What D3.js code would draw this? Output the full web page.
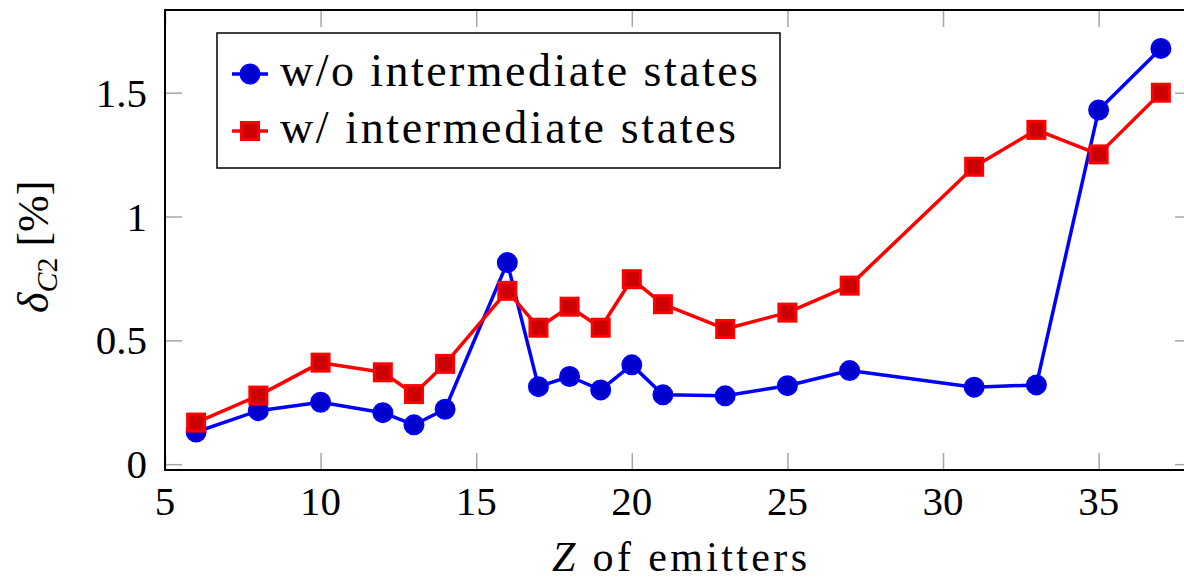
<!DOCTYPE html>
<html>
<head>
<meta charset="utf-8">
<script src="https://cdn.jsdelivr.net/npm/d3@7"></script>
<style>
  body { margin: 0; background: #fff; }
  text { font-family: "Liberation Serif", "DejaVu Serif", serif; fill: #000; }
</style>
</head>
<body>
<div id="chart"></div>
<script>
// Values
const zValues = [6, 8, 10, 12, 13, 14, 16, 17, 18, 19, 20, 21, 23, 25, 27, 31, 33, 35, 37];
const withoutStates = [0.13, 0.216, 0.25, 0.208, 0.159, 0.222, 0.814, 0.313, 0.354, 0.30, 0.401, 0.28, 0.276, 0.317, 0.378, 0.311, 0.32, 1.43, 1.679];
const withStates = [0.168, 0.277, 0.41, 0.371, 0.283, 0.405, 0.70, 0.551, 0.636, 0.551, 0.747, 0.646, 0.546, 0.612, 0.721, 1.201, 1.35, 1.251, 1.50];
const xTicks = [5, 10, 15, 20, 25, 30, 35];
const yTicks = [0, 0.5, 1, 1.5];
const seriesNames = ["w/o intermediate states", "w/ intermediate states"];

function drawChart() {
    const totalWidth = 1184, totalHeight = 581;
    const margin = { top: 10, left: 165 };
    const width = 1192 - margin.left;   // right frame lies just outside the picture
    const height = 470 - margin.top;

    const svg = d3.select("#chart").append("svg")
        .attr("width", totalWidth)
        .attr("height", totalHeight);

    const g = svg.append("g")
        .attr("transform", `translate(${margin.left},${margin.top})`);

    const xScale = d3.scaleLinear().domain([5, 38]).range([0, width]);
    const yScale = d3.scaleLinear().domain([-0.0235, 1.834]).range([height, 0]);

    // inward gray ticks on all four sides
    const tickLen = 17;
    const tickStyle = sel => {
        sel.select(".domain").remove();
        sel.selectAll(".tick line").attr("stroke", "#a6a6a6").attr("stroke-width", 1.5);
        sel.selectAll(".tick text").remove();
    };
    g.append("g").attr("transform", `translate(0,${height})`)
        .call(d3.axisTop(xScale).tickValues(xTicks).tickSize(tickLen)).call(tickStyle);
    g.append("g")
        .call(d3.axisBottom(xScale).tickValues(xTicks).tickSize(tickLen)).call(tickStyle);
    g.append("g")
        .call(d3.axisRight(yScale).tickValues(yTicks).tickSize(tickLen)).call(tickStyle);
    g.append("g").attr("transform", `translate(${width},0)`)
        .call(d3.axisLeft(yScale).tickValues(yTicks).tickSize(tickLen)).call(tickStyle);

    // tick labels
    g.selectAll(".x-label")
        .data(xTicks)
        .enter().append("text")
        .attr("class", "x-label")
        .attr("text-anchor", "middle")
        .attr("x", d => xScale(d))
        .attr("y", height + 45)
        .style("font-size", "41px")
        .text(d => d);

    g.selectAll(".y-label")
        .data(yTicks)
        .enter().append("text")
        .attr("class", "y-label")
        .attr("text-anchor", "end")
        .attr("x", -18)
        .attr("y", d => yScale(d) + 14)
        .style("font-size", "41px")
        .text(d => d);

    // frame
    g.append("rect")
        .attr("width", width).attr("height", height)
        .attr("fill", "none").attr("stroke", "#000").attr("stroke-width", 2);

    // series
    g.append("clipPath").attr("id", "plot-clip")
        .append("rect").attr("x", -12).attr("y", -12)
        .attr("width", width + 24).attr("height", height + 24);
    const plot = g.append("g").attr("clip-path", "url(#plot-clip)");

    const line = d3.line()
        .x(d => xScale(d[0]))
        .y(d => yScale(d[1]));

    const blueData = zValues.map((z, i) => [z, withoutStates[i]]);
    const redData = zValues.map((z, i) => [z, withStates[i]]);

    plot.append("path").datum(blueData)
        .attr("d", line).attr("fill", "none")
        .attr("stroke", "#0000ff").attr("stroke-width", 3.5)
        .attr("stroke-linejoin", "round");
    plot.selectAll(".dot")
        .data(blueData)
        .enter().append("circle")
        .attr("class", "dot")
        .attr("cx", d => xScale(d[0]))
        .attr("cy", d => yScale(d[1]))
        .attr("r", 9.5)
        .attr("fill", "#0000cc")
        .attr("stroke", "#0000ff")
        .attr("stroke-width", 2);

    plot.append("path").datum(redData)
        .attr("d", line).attr("fill", "none")
        .attr("stroke", "#ff0000").attr("stroke-width", 3.5)
        .attr("stroke-linejoin", "round");
    plot.selectAll(".sq")
        .data(redData)
        .enter().append("rect")
        .attr("class", "sq")
        .attr("x", d => xScale(d[0]) - 8.5)
        .attr("y", d => yScale(d[1]) - 8.5)
        .attr("width", 17).attr("height", 17)
        .attr("fill", "#cc0000")
        .attr("stroke", "#ff0000")
        .attr("stroke-width", 3);

    // axis titles
    const xTitle = svg.append("text")
        .attr("x", 552)
        .attr("y", 571)
        .attr("textLength", 255)
        .attr("lengthAdjust", "spacing")
        .style("font-size", "42px");
    xTitle.append("tspan").style("font-style", "italic").text("Z");
    xTitle.append("tspan").text(" of emitters");

    const yTitle = svg.append("text")
        .attr("transform", "translate(48,313) rotate(-90)")
        .style("font-size", "44px");
    yTitle.append("tspan").style("font-style", "italic").text("δ");
    yTitle.append("tspan").attr("dy", 9).style("font-size", "30px").style("font-style", "italic").text("C");
    yTitle.append("tspan").style("font-size", "30px").text("2");
    yTitle.append("tspan").attr("dy", -9).text(" [%]");

    // legend
    const legend = svg.append("g");
    legend.append("rect")
        .attr("x", 217).attr("y", 33)
        .attr("width", 563).attr("height", 135)
        .attr("fill", "#fff").attr("stroke", "#000").attr("stroke-width", 1.5);

    const rows = [
        { y: 74, color: "#0000ff", fill: "#0000cc", shape: "circle", len: 478 },
        { y: 131, color: "#ff0000", fill: "#cc0000", shape: "square", len: 456 }
    ];
    rows.forEach((r, i) => {
        legend.append("line")
            .attr("x1", 232).attr("x2", 268)
            .attr("y1", r.y).attr("y2", r.y)
            .attr("stroke", r.color).attr("stroke-width", 3.5);
        if (r.shape === "circle") {
            legend.append("circle")
                .attr("cx", 250).attr("cy", r.y).attr("r", 9.5)
                .attr("fill", r.fill).attr("stroke", r.color).attr("stroke-width", 2);
        } else {
            legend.append("rect")
                .attr("x", 241.5).attr("y", r.y - 8.5)
                .attr("width", 17).attr("height", 17)
                .attr("fill", r.fill).attr("stroke", r.color).attr("stroke-width", 3);
        }
        legend.append("text")
            .attr("x", 280)
            .attr("y", r.y + 12)
            .attr("textLength", r.len)
            .attr("lengthAdjust", "spacing")
            .style("font-size", "46px")
            .text(seriesNames[i]);
    });
}

drawChart();
</script>
</body>
</html>
